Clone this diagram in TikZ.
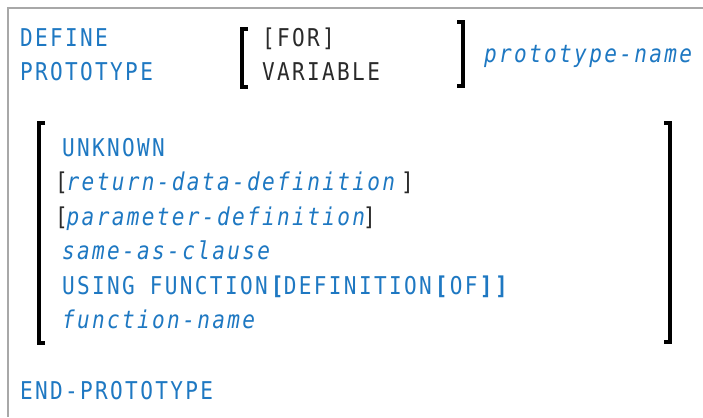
\documentclass[tikz,border=0pt]{standalone}
\usepackage{fontspec}
\setmonofont[FakeStretch=0.86,LetterSpace=9.6]{DejaVu Sans Mono}
\definecolor{kwblue}{HTML}{1E78C2}
\definecolor{frame}{HTML}{A8A8A8}
\definecolor{plain}{HTML}{2A2A2A}
\begin{document}
\begin{tikzpicture}[x=1pt,y=-1pt,
  txt/.style={anchor=base west,inner sep=0pt,outer sep=0pt,font=\ttfamily\fontsize{24.5}{30}\selectfont},
  kw/.style={txt,text=kwblue},
  var/.style={txt,text=kwblue,font=\ttfamily\itshape\fontsize{24.5}{30}\selectfont},
  opt/.style={txt,text=plain},
  bigbracket/.style={line width=4pt,black,line cap=butt,line join=miter}]
\useasboundingbox (0,0) rectangle (703,417);
\fill[white] (0,0) rectangle (703,417);
\draw[frame,line width=2pt] (8,417) -- (8,8) -- (703,8);
% first line
\node[kw] (define) at (20,47) {DEFINE};
\node[kw] (prototype) at (20,81) {PROTOTYPE};
\node[opt] (for) at (262,47) {[FOR]};
\node[opt] (variable) at (262,81) {VARIABLE};
\node[var] (pname) at (484,63) {prototype-name};
\coordinate (lbA) at (242,29);
\coordinate (lbB) at (242,87);
\coordinate (rbA) at (463,22);
\coordinate (rbB) at (463,86);
\draw[bigbracket] ([xshift=6pt]lbA) -- (lbA) -- (lbB) -- ([xshift=6pt]lbB);
\draw[bigbracket] ([xshift=-6pt]rbA) -- (rbA) -- (rbB) -- ([xshift=-6pt]rbB);
% block
\node[kw] (unknown) at (62,156) {UNKNOWN};
\node[opt] (rd) at (55,190.5) {[\kern-1pt\textcolor{kwblue}{\itshape return-data-definition}\kern6pt]};
\node[opt] (pd) at (55,225) {[\kern-1pt\textcolor{kwblue}{\itshape parameter-definition}\kern-2pt]};
\node[var] (same) at (62,259.5) {same-as-clause};
\node[kw] (using) at (62,294) {USING FUNCTION\kern3pt\textbf{[}\kern-2pt DEFINITION\kern3pt\textbf{[}OF\textbf{]]}};
\node[var] (fname) at (62,328.5) {function-name};
\coordinate (lcA) at (39,123);
\coordinate (lcB) at (39,343);
\coordinate (rcA) at (670,123);
\coordinate (rcB) at (670,342);
\draw[bigbracket] ([xshift=6pt]lcA) -- (lcA) -- (lcB) -- ([xshift=6pt]lcB);
\draw[bigbracket] ([xshift=-6pt]rcA) -- (rcA) -- (rcB) -- ([xshift=-6pt]rcB);
\node[kw] (endp) at (20,399) {END-PROTOTYPE};
\end{tikzpicture}
\end{document}
